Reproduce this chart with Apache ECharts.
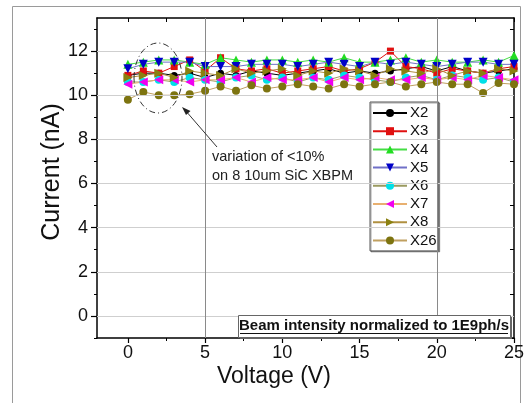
<!DOCTYPE html>
<html>
<head>
<meta charset="utf-8">
<script src="https://cdn.jsdelivr.net/npm/echarts@6/dist/echarts.min.js"></script>
<style>
html,body{margin:0;padding:0;background:#fff;}
#chart{width:527px;height:403px;}
</style>
</head>
<body>
<div id="chart"></div>
<script>
// ---- data ----
const volts = [0,1,2,3,4,5,6,7,8,9,10,11,12,13,14,15,16,17,18,19,20,21,22,23,24,25];
const X2  = [10.9,11.0,11.0,10.9,11.0,10.8,11.0,10.9,11.1,11.0,10.9,11.0,11.1,11.2,11.0,11.1,11.0,11.1,11.2,11.3,11.1,11.3,11.1,11.0,11.1,11.2];
const X3  = [10.9,11.1,11.0,11.3,11.6,11.1,11.7,11.2,11.1,11.2,11.0,11.1,11.2,11.3,11.1,11.2,11.5,12.0,11.3,11.2,11.0,11.2,11.1,11.0,11.2,11.3];
const X4  = [11.4,11.5,11.6,11.6,11.5,11.4,11.7,11.6,11.5,11.6,11.6,11.5,11.6,11.5,11.7,11.5,11.5,11.6,11.7,11.5,11.6,11.5,11.5,11.6,11.5,11.8];
const X5  = [11.2,11.4,11.5,11.5,11.5,11.3,11.3,11.3,11.4,11.4,11.4,11.3,11.4,11.5,11.4,11.3,11.5,11.4,11.5,11.4,11.3,11.4,11.5,11.5,11.4,11.4];
const X6  = [10.6,10.6,10.7,10.6,10.8,10.7,10.6,10.8,10.9,10.7,10.8,10.6,10.8,10.7,10.9,10.8,10.7,10.6,10.8,10.9,10.7,10.9,10.8,10.7,10.8,10.6];
const X7  = [10.5,10.6,10.7,10.7,10.6,10.7,10.7,10.8,10.6,10.8,10.7,10.7,10.8,10.6,10.8,10.7,10.8,10.7,10.7,10.8,10.7,10.8,10.7,10.9,10.8,10.7];
const X8  = [10.8,10.9,11.0,10.8,11.1,11.0,10.9,11.2,11.0,11.1,11.2,10.9,11.1,11.0,11.2,11.1,10.9,11.2,11.1,11.0,11.2,10.9,11.1,11.0,11.2,11.1];
const X26 = [9.8,10.15,10.0,10.0,10.05,10.2,10.4,10.2,10.45,10.3,10.4,10.5,10.4,10.3,10.5,10.4,10.5,10.6,10.4,10.5,10.6,10.5,10.5,10.1,10.55,10.5];

const xMajor = [0,5,10,15,20,25];
const xMinor = [2.5,7.5,12.5,17.5,22.5];
const yMajor = [0,2,4,6,8,10,12];
const yMinor = [-1,1,3,5,7,9,11,13];
const vGrid = [5,20];

const seriesDefs = [
  {name:'X2',  data:X2,  symbol:'circle',   rot:0,   mc:'#000000', lc:'#000000', size:7},
  {name:'X3',  data:X3,  symbol:'rect',     rot:0,   mc:'#e01010', lc:'#e01010', size:7},
  {name:'X4',  data:X4,  symbol:'triangle', rot:0,   mc:'#22dd22', lc:'#44dd44', size:9},
  {name:'X5',  data:X5,  symbol:'triangle', rot:180, mc:'#0000c8', lc:'#7070c8', size:9},
  {name:'X6',  data:X6,  symbol:'circle',   rot:0,   mc:'#00e0e8', lc:'#9a9a60', size:8},
  {name:'X7',  data:X7,  symbol:'triangle', rot:90,  mc:'#f000f0', lc:'#e8b070', size:9},
  {name:'X8',  data:X8,  symbol:'triangle', rot:-90, mc:'#8a8010', lc:'#b09040', size:9},
  {name:'X26', data:X26, symbol:'circle',   rot:0,   mc:'#7d7410', lc:'#c0a060', size:8}
];

const FONT = 'Liberation Sans, Arial, sans-serif';
const chart = echarts.init(document.getElementById('chart'), null, {renderer:'canvas'});

const gridSeries = {
  type:'line', data:[], silent:true, z:1,
  markLine:{
    silent:true, symbol:['none','none'], animation:false,
    label:{show:false},
    data: yMajor.map(v=>({yAxis:v, lineStyle:{color:'#cfcfcf', width:1, type:'solid'}}))
      .concat(vGrid.map(v=>({xAxis:v, lineStyle:{color:'#8a8a8a', width:1, type:'solid'}})))
  }
};

const series = [gridSeries].concat(seriesDefs.map(d=>({
  name:d.name, type:'line', z:3,
  data: volts.map((x,i)=>[x, d.data[i]]),
  symbol:d.symbol, symbolSize:d.size, symbolRotate:d.rot,
  showAllSymbol:true,
  itemStyle:{color:d.mc},
  lineStyle:{color:d.lc, width:1},
  emphasis:{disabled:true},
  animation:false
})));

const axisLineStyle = {show:true, onZero:false, lineStyle:{color:'#000', width:1.5}};

chart.setOption({
  backgroundColor:'#fff',
  animation:false,
  grid:{left:97, right:13, top:18, bottom:65, containLabel:false},
  xAxis:[
    {type:'value', position:'bottom', min:-2, max:25,
     axisLine:axisLineStyle,
     axisTick:{show:true, inside:false, length:5, customValues:xMajor, lineStyle:{color:'#000', width:1.2}},
     axisLabel:{show:true, customValues:xMajor, margin:6, fontSize:18, color:'#111', fontFamily:FONT},
     splitLine:{show:false}},
    {type:'value', position:'bottom', min:-2, max:25,
     axisLine:{show:false, onZero:false},
     axisTick:{show:true, inside:false, length:3, customValues:xMinor, lineStyle:{color:'#000', width:1}},
     axisLabel:{show:false}, splitLine:{show:false}},
    {type:'value', position:'top', min:-2, max:25,
     axisLine:axisLineStyle,
     axisTick:{show:true, inside:true, length:4, customValues:xMajor.concat(xMinor), lineStyle:{color:'#000', width:1}},
     axisLabel:{show:false}, splitLine:{show:false}}
  ],
  yAxis:[
    {type:'value', position:'left', min:-1, max:13.5,
     axisLine:axisLineStyle,
     axisTick:{show:true, inside:false, length:6, customValues:yMajor, lineStyle:{color:'#000', width:1.2}},
     axisLabel:{show:true, customValues:yMajor, margin:9, fontSize:18, color:'#111', fontFamily:FONT},
     splitLine:{show:false}},
    {type:'value', position:'left', min:-1, max:13.5,
     axisLine:{show:false, onZero:false},
     axisTick:{show:true, inside:false, length:3, customValues:yMinor, lineStyle:{color:'#000', width:1}},
     axisLabel:{show:false}, splitLine:{show:false}},
    {type:'value', position:'right', min:-1, max:13.5,
     axisLine:axisLineStyle,
     axisTick:{show:true, inside:true, length:4, customValues:yMajor.concat(yMinor), lineStyle:{color:'#000', width:1}},
     axisLabel:{show:false}, splitLine:{show:false}}
  ],
  legend:{
    show:true, orient:'vertical', left:370, top:102,
    data:seriesDefs.map(d=>d.name),
    itemWidth:34, itemHeight:10, itemGap:3.2,
    padding:[3.5,2,3,2],
    backgroundColor:'#fff', borderColor:'#555', borderWidth:1,
    shadowColor:'rgba(0,0,0,0.35)', shadowOffsetX:1, shadowOffsetY:1, shadowBlur:0,
    textStyle:{fontSize:15, color:'#111', fontFamily:FONT, lineHeight:15, padding:[0,0,0,-2]},
    selectedMode:false
  },
  graphic:[
    {type:'rect', shape:{x:12.5, y:6.5, width:508, height:420}, style:{fill:'none', stroke:'#9a9a9a', lineWidth:1}, silent:true, z:0},
    {type:'text', left:217, top:365, style:{text:'Voltage (V)', fontSize:23, fontFamily:FONT, fill:'#111'}, z:10},
    {type:'text', x:52, y:172, rotation:Math.PI/2, style:{text:'Current (nA)', fontSize:25, fontFamily:FONT, fill:'#111', align:'center', verticalAlign:'middle'}, z:10},
    {type:'ellipse', shape:{cx:158, cy:78, rx:24, ry:35}, style:{fill:'none', stroke:'#333', lineWidth:1, lineDash:[6,3,1,3]}, z:10, silent:true},
    {type:'line', shape:{x1:217, y1:147, x2:185, y2:110}, style:{stroke:'#333', lineWidth:1}, z:10, silent:true},
    {type:'polygon', shape:{points:[[182,107],[190.5,111],[186,115]]}, style:{fill:'#222'}, z:10, silent:true},
    {type:'text', left:212, top:147, style:{text:'variation of <10%\non 8 10um SiC XBPM', fontSize:14.5, lineHeight:19, fontFamily:FONT, fill:'#222'}, z:10},
    {type:'rect', shape:{x:240, y:317, width:272, height:22}, style:{fill:'#666'}, z:9, silent:true},
    {type:'rect', shape:{x:238.5, y:315.5, width:272, height:22}, style:{fill:'#fff', stroke:'#666', lineWidth:1}, z:10, silent:true},
    {type:'text', x:374, y:326, style:{text:'Beam intensity normalized to 1E9ph/s', fontSize:15, fontWeight:'bold', fontFamily:FONT, fill:'#111', align:'center', verticalAlign:'middle'}, z:11},
    {type:'line', shape:{x1:240, y1:333.5, x2:508, y2:333.5}, style:{stroke:'#111', lineWidth:1.2}, z:11, silent:true}
  ],
  series:series
});
</script>
</body>
</html>
